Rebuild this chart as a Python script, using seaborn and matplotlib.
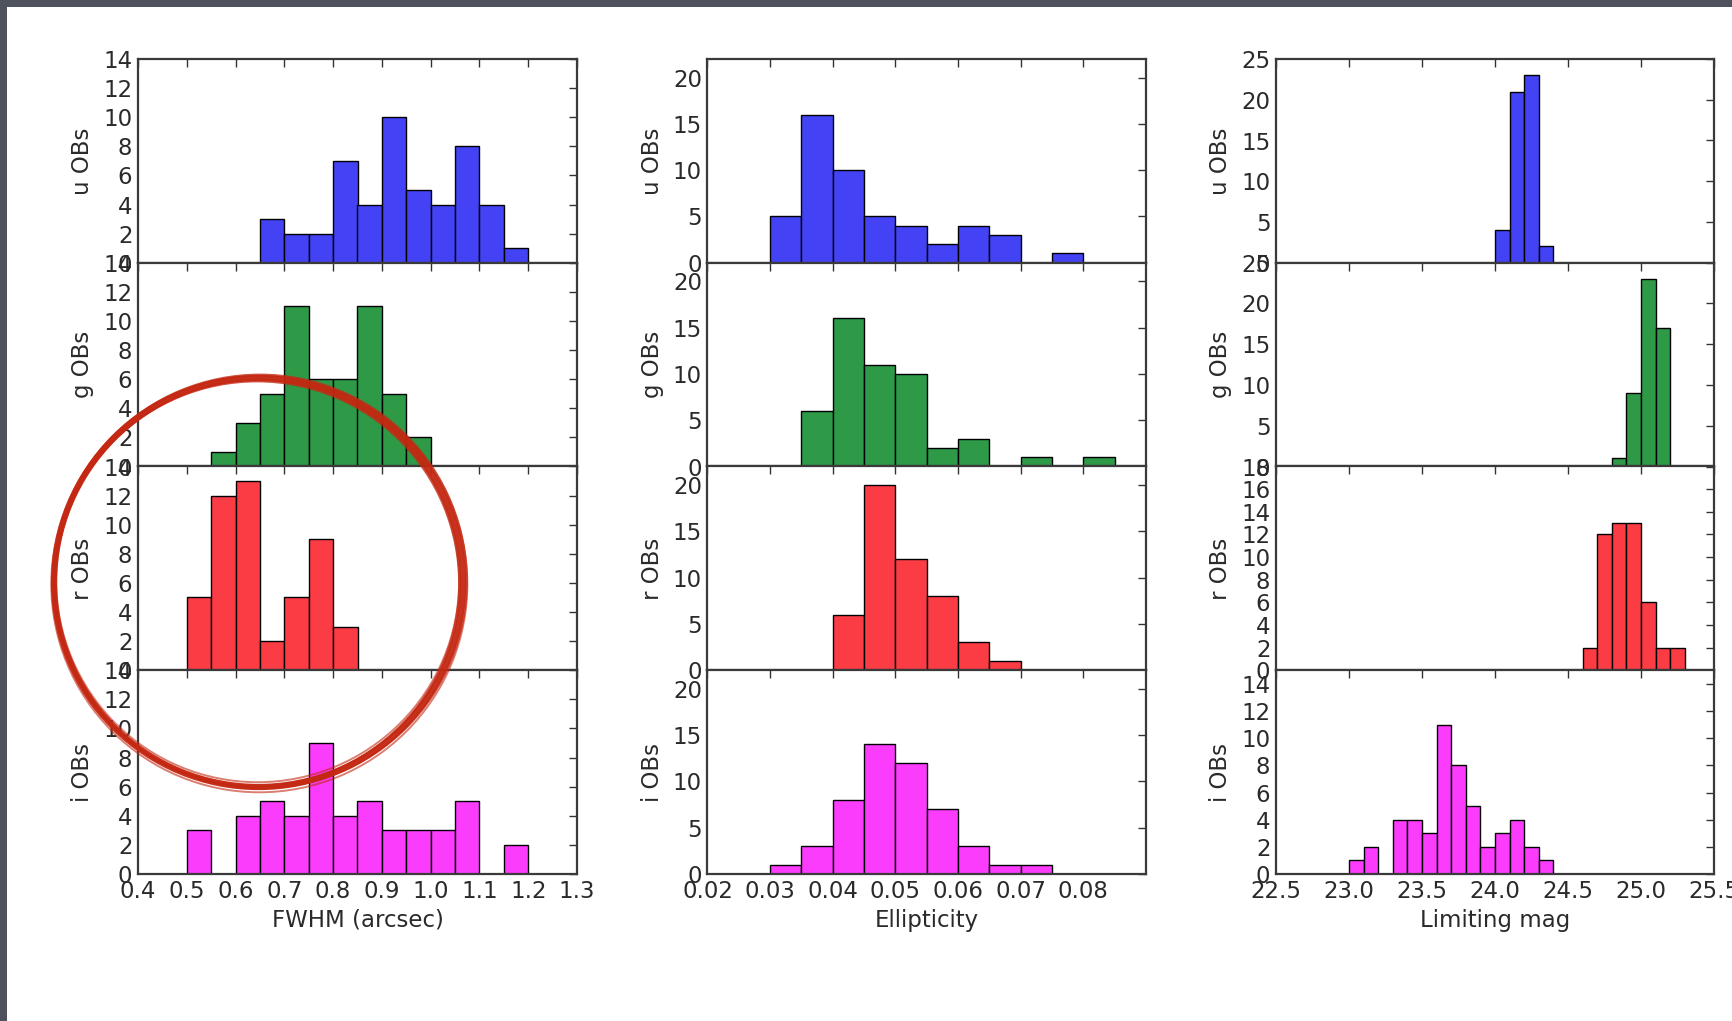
import numpy as np
import pandas as pd
import matplotlib
matplotlib.use("Agg")
import matplotlib.pyplot as plt
import seaborn as sns
from matplotlib.patches import Ellipse, Rectangle

# ---------------- data ----------------
bands = ["u", "g", "r", "i"]
band_colors = ["#4343f5", "#2e9a48", "#fc3c44", "#fc3cfc"]

# FWHM (arcsec), bins of 0.05
fwhm_start = [0.65, 0.55, 0.50, 0.50]
fwhm_counts = [
    [3, 2, 2, 7, 4, 10, 5, 4, 8, 4, 1],
    [1, 3, 5, 11, 6, 6, 11, 5, 2],
    [5, 12, 13, 2, 5, 9, 3],
    [3, 0, 4, 5, 4, 9, 4, 5, 3, 3, 3, 5, 0, 2],
]
# Ellipticity, bins of 0.005
ell_start = [0.030, 0.035, 0.040, 0.030]
ell_counts = [
    [5, 16, 10, 5, 4, 2, 4, 3, 0, 1],
    [6, 16, 11, 10, 2, 3, 0, 1, 0, 1],
    [6, 20, 12, 8, 3, 1],
    [1, 3, 8, 14, 12, 7, 3, 1, 1],
]
# Limiting mag, bins of 0.1
mag_start = [24.0, 24.8, 24.6, 23.0]
mag_counts = [
    [4, 21, 23, 2],
    [1, 9, 23, 17],
    [2, 12, 13, 13, 6, 2, 2],
    [1, 2, 0, 4, 4, 3, 11, 8, 5, 2, 3, 4, 2, 1],
]

fwhm_ticks = [0.4, 0.5, 0.6, 0.7, 0.8, 0.9, 1.0, 1.1, 1.2, 1.3]
ell_ticks = [0.02, 0.03, 0.04, 0.05, 0.06, 0.07, 0.08]
mag_ticks = [22.5, 23.0, 23.5, 24.0, 24.5, 25.0, 25.5]

columns = [
    dict(start=fwhm_start, counts=fwhm_counts, width=0.05, xlim=(0.4, 1.3),
         xticks=fwhm_ticks, fmt="{:.1f}", xlabel="FWHM (arcsec)",
         ylims=[14, 14, 14, 14], ysteps=[2, 2, 2, 2], ytop=[14, 14, 14, 14]),
    dict(start=ell_start, counts=ell_counts, width=0.005, xlim=(0.02, 0.09),
         xticks=ell_ticks, fmt="{:.2f}", xlabel="Ellipticity",
         ylims=[22, 22, 22, 22], ysteps=[5, 5, 5, 5], ytop=[20, 20, 20, 20]),
    dict(start=mag_start, counts=mag_counts, width=0.1, xlim=(22.5, 25.5),
         xticks=mag_ticks, fmt="{:.1f}", xlabel="Limiting mag",
         ylims=[25, 25, 18, 15], ysteps=[5, 5, 2, 2], ytop=[25, 25, 18, 14]),
]

# ---------------- figure ----------------
sns.set_style("white")
plt.rcParams['font.family'] = ['DejaVu Sans']

W, H = 1733, 1021
fig = plt.figure(figsize=(W / 100, H / 100), dpi=100)
fig.patch.set_facecolor("white")

col_lr = [(138, 577), (707.5, 1146), (1276, 1714)]
top_px, bot_px = 59, 874
row_h = (bot_px - top_px) / 4.0
text_col = "#2a2a2a"
fs = 16.5

for c, col in enumerate(columns):
    l, r = col_lr[c]
    for b in range(4):
        y_top = top_px + b * row_h
        y_bot = y_top + row_h
        ax = fig.add_axes([l / W, 1 - y_bot / H, (r - l) / W, row_h / H])
        counts = col["counts"][b]
        n = len(counts)
        w = col["width"]
        lo = col["start"][b]
        centers = lo + w * (np.arange(n) + 0.5)
        df = pd.DataFrame({"value": centers, "count": counts})
        sns.histplot(data=df, x="value", weights="count", binwidth=w,
                     binrange=(lo, lo + n * w), ax=ax,
                     color=band_colors[b], alpha=1.0, edgecolor="black",
                     linewidth=1.0)
        ax.set_xlim(*col["xlim"])
        ax.set_ylim(0, col["ylims"][b])
        ax.set_xticks(col["xticks"])
        ax.set_yticks(np.arange(0, col["ytop"][b] + 0.01, col["ysteps"][b]))
        ax.tick_params(direction="in", top=True, right=True, length=6,
                       width=1.0, color="#333333", labelsize=fs,
                       labelcolor=text_col, pad=4)
        ax.set_yticklabels([str(int(v)) for v in ax.get_yticks()])
        if b == 3:
            ax.set_xticklabels([col["fmt"].format(v) for v in col["xticks"]])
            ax.set_xlabel(col["xlabel"], fontsize=fs, color=text_col)
            ax.xaxis.set_label_coords(0.5, -0.17)
        else:
            ax.set_xticklabels([])
            ax.set_xlabel("")
        ax.set_ylabel(f"{bands[b]} OBs", fontsize=fs, color=text_col)
        ax.yaxis.set_label_coords(-0.1, 0.5)
        for s in ax.spines.values():
            s.set_color("#3a3a3a")
            s.set_linewidth(1.6)
            s.set_visible(True)

# dark slide frame on top and left
frame_col = "#4e525c"
fig.add_artist(Rectangle((0, 1 - 7 / H), 1, 7 / H, transform=fig.transFigure,
                         facecolor=frame_col, edgecolor="none", zorder=10))
fig.add_artist(Rectangle((0, 0), 7 / W, 1, transform=fig.transFigure,
                         facecolor=frame_col, edgecolor="none", zorder=10))

# hand-drawn red circle annotation
cx, cy, rad = 258.5, 582.5, 204.5
strokes = [(0, 0, 0, 4.5, 0.95), (1.5, -1.0, 2.0, 2.0, 0.8),
           (-1.5, 1.0, -2.0, 2.0, 0.8), (0.8, 1.8, 3.5, 1.4, 0.6),
           (-0.8, -1.8, -3.0, 1.4, 0.6)]
for dx, dy, dr, lw, a in strokes:
    e = Ellipse(((cx + dx) / W, 1 - (cy + dy) / H),
                2 * (rad + dr) / W, 2 * (rad + dr) / H,
                transform=fig.transFigure, fill=False,
                edgecolor="#c42812", linewidth=lw, alpha=a, zorder=20)
    fig.add_artist(e)

fig.savefig("out.png", dpi=100, facecolor="white")
